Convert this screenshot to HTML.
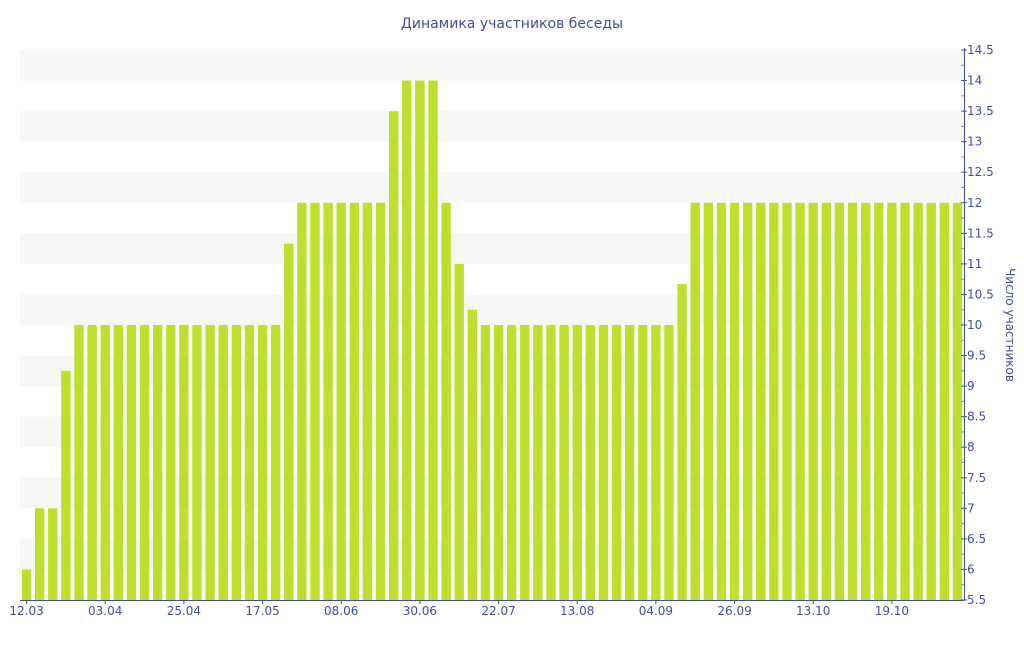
<!DOCTYPE html>
<html><head><meta charset="utf-8"><style>
body{margin:0;background:#fff;width:1024px;height:640px;overflow:hidden}
svg text{font-family:"DejaVu Sans","Liberation Sans",sans-serif;fill:#3d4f9a}
</style></head><body>
<svg id="c" width="1024" height="640">
<text x="512" y="28" text-anchor="middle" font-size="14">Динамика участников беседы</text>
<g id="bands"></g><g id="bars"></g><g id="axes"></g>
<text transform="translate(1006,325) rotate(90)" text-anchor="middle" font-size="12">Число участников</text>
</svg>
<script>
const values=[6,7,7,9.25,10,10,10,10,10,10,10,10,10,10,10,10,10,10,10,10,11.33,12,12,12,12,12,12,12,13.5,14,14,14,12,11,10.25,10,10,10,10,10,10,10,10,10,10,10,10,10,10,10,10.67,12,12,12,12,12,12,12,12,12,12,12,12,12,12,12,12,12,12,12,12,12];
const xLabels=["12.03","03.04","25.04","17.05","08.06","30.06","22.07","13.08","04.09","26.09","13.10","19.10"];
const xLabelIdx=[0,6,12,18,24,30,36,42,48,54,60,66];
const yTicks=[5.5,6,6.5,7,7.5,8,8.5,9,9.5,10,10.5,11,11.5,12,12.5,13,13.5,14,14.5];
const NS="http://www.w3.org/2000/svg";
const L=20,R=964,T=50,B=600,yMin=5.5,yMax=14.5;
const step=(R-L)/values.length;
const xs=i=>L+step*(i+0.5);
const ys=v=>B-(v-yMin)/(yMax-yMin)*(B-T);
function mk(t,a,p){const e=document.createElementNS(NS,t);for(const k in a)e.setAttribute(k,a[k]);p.appendChild(e);return e;}
const bands=document.getElementById('bands'),bars=document.getElementById('bars'),axes=document.getElementById('axes');
for(let v=yMin;v<yMax;v+=1){const b=mk('rect',{x:L,y:ys(v+1),width:R-L,height:ys(v+0.5)-ys(v+1),fill:'#f7f7f7'},bands);

}
values.forEach((v,i)=>{const r=mk('rect',{x:xs(i)-4.7,y:ys(v),width:9.4,height:B-ys(v),fill:'#bde02f'},bars);

});
mk('line',{x1:L,y1:B+0.5,x2:R,y2:B+0.5,stroke:'#3d4f9a'},axes);
mk('line',{x1:R+0.5,y1:T-2,x2:R+0.5,y2:B,stroke:'#3d4f9a'},axes);
yTicks.forEach(v=>{const y=ys(v);mk('line',{x1:R-3,y1:y,x2:R+3,y2:y,stroke:'#3d4f9a'},axes);
if(v<yMax)mk('line',{x1:R-3,y1:ys(v+0.25),x2:R,y2:ys(v+0.25),stroke:'#8891b8'},axes);
const t=mk('text',{x:R+3,y:y+4,'font-size':12},axes);t.textContent=String(v);

});
xLabels.forEach((s,k)=>{const x=xs(xLabelIdx[k]);mk('line',{x1:x,y1:B,x2:x,y2:B+4,stroke:'#3d4f9a'},axes);
const t=mk('text',{x:x,y:B+15,'font-size':12,'text-anchor':'middle'},axes);t.textContent=s;

});
</script>
</body></html>
